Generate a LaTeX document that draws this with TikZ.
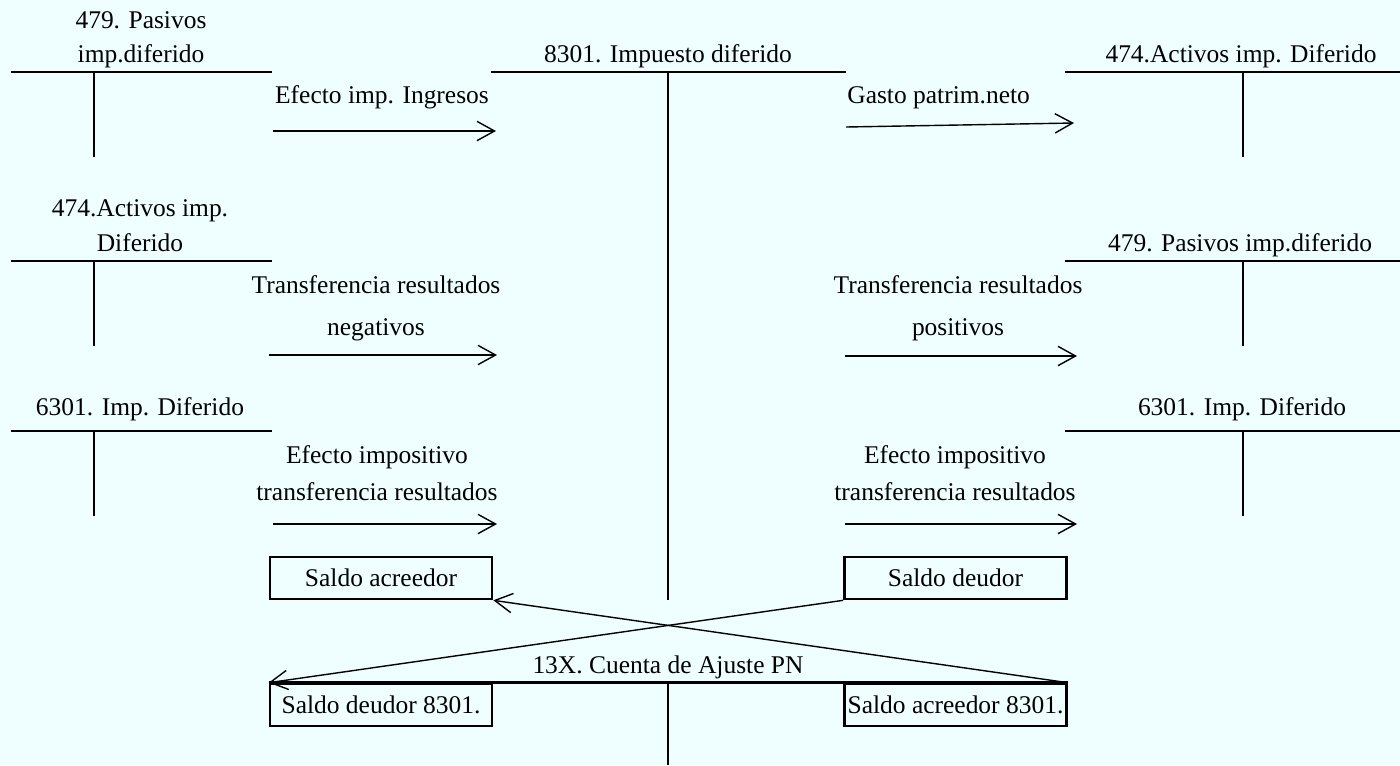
\documentclass[tikz,border=0pt]{standalone}
\usepackage{fontspec}
\setmainfont{Liberation Serif}
\usetikzlibrary{arrows.meta}

\definecolor{fondo}{RGB}{239,255,255}

\tikzset{
  cuenta/.style = {line width = 1.6pt},
  eje/.style = {line width = 1pt},
  flecha/.style = {line width = 0.8pt, -{Straight Barb[length = 10pt, width = 11pt]}},
  rotulo/.style = {inner sep = 0pt, anchor = base},
  saldo/.style = {draw, line width = 1.5pt, minimum width = 4.44cm, minimum height = 0.84cm, inner sep = 1pt}
}

\begin{document}
\begin{tikzpicture}[x = 0.02cm, y = -0.02cm, font = \fontsize{14.5}{17}\selectfont]
    \useasboundingbox (0, 0) rectangle (1400, 765);
    \fill[fondo] (0, 0) rectangle (1400, 765);

    % cuentas en T laterales
    \foreach \y in {72, 261, 431} {
        \draw[cuenta] (11, \y) -- (272, \y);
        \draw[cuenta] (94, \y) -- (94, {\y + 85});
        \draw[cuenta] (1065, \y) -- (1400, \y);
        \draw[cuenta] (1243, \y) -- (1243, {\y + 85});
    }

    \node[rotulo] (pas1) at (141, 28) {479. Pasivos};
    \node[rotulo] (pas2) at (141, 62) {imp.diferido};
    \node[rotulo] (act1) at (140, 216) {474.Activos imp.};
    \node[rotulo] (act2) at (140, 251) {Diferido};
    \node[rotulo] (gtoI) at (140, 415) {6301. Imp. Diferido};

    \node[rotulo] (actD) at (1241, 62) {474.Activos imp. Diferido};
    \node[rotulo] (pasD) at (1240, 251) {479. Pasivos imp.diferido};
    \node[rotulo] (gtoD) at (1242, 415) {6301. Imp. Diferido};

    % cuenta 8301
    \node[rotulo] (imp) at (668, 62) {8301. Impuesto diferido};
    \draw[cuenta] (491, 72) -- (846, 72);
    \draw[eje] (668, 72) -- (668, 600);

    % movimientos
    \node[rotulo] (ingr) at (382, 103) {Efecto imp. Ingresos};
    \node[rotulo, anchor = base west] (gasto) at (847, 103) {Gasto patrim.neto};
    \node[rotulo] (neg1) at (376, 293) {Transferencia resultados};
    \node[rotulo] (neg2) at (376, 335) {negativos};
    \node[rotulo] (pos1) at (958, 293) {Transferencia resultados};
    \node[rotulo] (pos2) at (958, 335) {positivos};
    \node[rotulo] (efI1) at (377, 463) {Efecto impositivo};
    \node[rotulo] (efI2) at (377, 500) {transferencia resultados};
    \node[rotulo] (efD1) at (955, 463) {Efecto impositivo};
    \node[rotulo] (efD2) at (955, 500) {transferencia resultados};

    \coordinate (ingrA) at (273, 131);
    \coordinate (ingrB) at (496, 131);
    \coordinate (gastoA) at (846, 127);
    \coordinate (gastoB) at (1074, 123);
    \coordinate (negA) at (269, 355);
    \coordinate (negB) at (497, 355);
    \coordinate (posA) at (845, 356);
    \coordinate (posB) at (1077, 356);
    \coordinate (efIA) at (273, 524);
    \coordinate (efIB) at (497, 524);
    \coordinate (efDA) at (845, 524);
    \coordinate (efDB) at (1077, 524);

    \draw[flecha] (ingrA) -- (ingrB);
    \draw[flecha] (gastoA) -- (gastoB);
    \draw[flecha] (negA) -- (negB);
    \draw[flecha] (posA) -- (posB);
    \draw[flecha] (efIA) -- (efIB);
    \draw[flecha] (efDA) -- (efDB);

    % saldos
    \node[saldo] (sacr) at (381, 578) {Saldo acreedor};
    \node[saldo] (sdeu) at (955.5, 578) {Saldo deudor};
    \node[saldo] (sdeu8301) at (381, 705) {Saldo deudor 8301.};
    \node[saldo] (sacr8301) at (955.5, 705) {Saldo acreedor 8301.};

    % cuenta 13X
    \node[rotulo] (ajuste) at (668, 673) {13X. Cuenta de Ajuste PN};
    \draw[cuenta] (sdeu8301.north west) -- (sacr8301.north east);
    \draw[eje] (668, 683) -- (668, 765);

    \draw[flecha] (sdeu.south west) -- (sdeu8301.north west);
    \draw[flecha] (sacr8301.north east) -- (sacr.south east);
\end{tikzpicture}
\end{document}
